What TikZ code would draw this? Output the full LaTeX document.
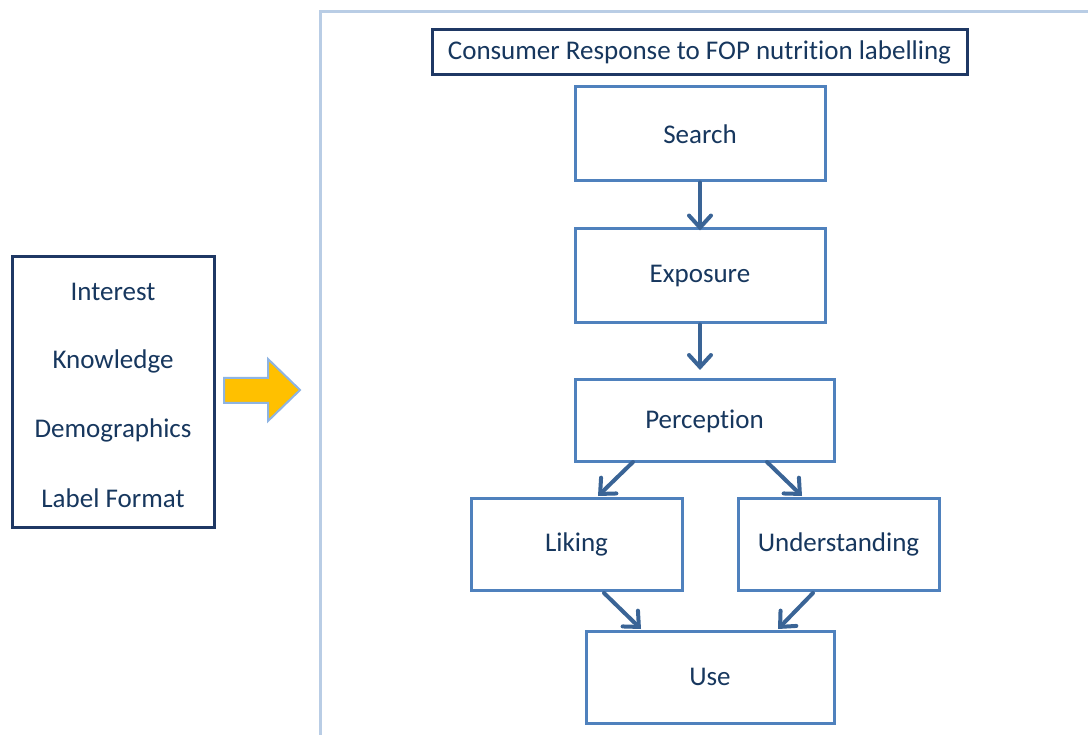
\documentclass[tikz,border=0pt]{standalone}
\usepackage{fontspec}
\setmainfont{Carlito}[RawFeature=-liga]
\usetikzlibrary{arrows.meta}
\definecolor{navy}{HTML}{1F3864}
\definecolor{txt}{HTML}{17375E}
\definecolor{boxblue}{HTML}{4F81BD}
\definecolor{arrblue}{HTML}{3A6496}
\definecolor{frameblue}{HTML}{B9CDE5}
\definecolor{gold}{HTML}{FFC000}
\definecolor{goldedge}{HTML}{8EB4E3}
\tikzset{
  labeltext/.style={text=txt, font=\fontsize{27}{32}\selectfont},
  stepbox/.style={labeltext, draw=boxblue, line width=3pt, fill=white},
  flow/.style={draw=arrblue, line width=4pt, line cap=round, -{Straight Barb[length=12pt, width=22pt, line cap=round]}},
}
\begin{document}
\begin{tikzpicture}[x=1pt, y=-1pt]
\useasboundingbox (0,0) rectangle (1088,735);
\fill[white] (0,0) rectangle (1088,735);
% outer frame around the response model
\draw[frameblue, line width=3pt] (320,740) -- (320,12) -- (1095,12);
% model boxes
\node[stepbox, draw=navy, minimum width=535pt, minimum height=45pt, inner sep=0pt] (title) at (699.5,52.5) {Consumer Response to FOP nutrition labelling};
\node[stepbox, minimum width=250pt, minimum height=94pt] (search) at (700,134) {Search};
\node[stepbox, minimum width=250pt, minimum height=94pt] (expo) at (700,276) {Exposure};
\node[stepbox, minimum width=259pt, minimum height=82pt] (perc) at (704.5,421) {Perception};
\node[stepbox, minimum width=211pt, minimum height=92pt] (like) at (576.5,544) {Liking};
\node[stepbox, minimum width=201pt, minimum height=92pt] (under) at (838.5,544) {Understanding};
\node[stepbox, minimum width=248pt, minimum height=92pt] (use) at (710,677) {Use};
% factors box
\node[draw=navy, line width=3pt, minimum width=202pt, minimum height=270pt, inner sep=0pt] (factors) at (113,392) {};
\node[labeltext] (f1) at (113,292) {Interest};
\node[labeltext] (f2) at (113,361) {Knowledge};
\node[labeltext] (f3) at (113,430) {Demographics};
\node[labeltext] (f4) at (113,498) {Label Format};
% block arrow
\draw[goldedge, line width=2pt, fill=gold, line join=miter] (224,378) -- (268,378) -- (268,359) -- (300,390) -- (268,421) -- (268,403) -- (224,403) -- cycle;
% connectors
\coordinate (e1) at (700,370);
\coordinate (p1) at (633,462);
\coordinate (p2) at (767,462);
\coordinate (l1) at (604,593);
\coordinate (u1) at (813,593);
\draw[flow] (search.south) -- ([yshift=-3pt]expo.north);
\draw[flow] (expo.south) -- (e1);
\draw[flow] (p1) -- (598,496);
\draw[flow] (p2) -- (802,496);
\draw[flow] (l1) -- (641,629);
\draw[flow] (u1) -- (778,629);
\end{tikzpicture}
\end{document}
